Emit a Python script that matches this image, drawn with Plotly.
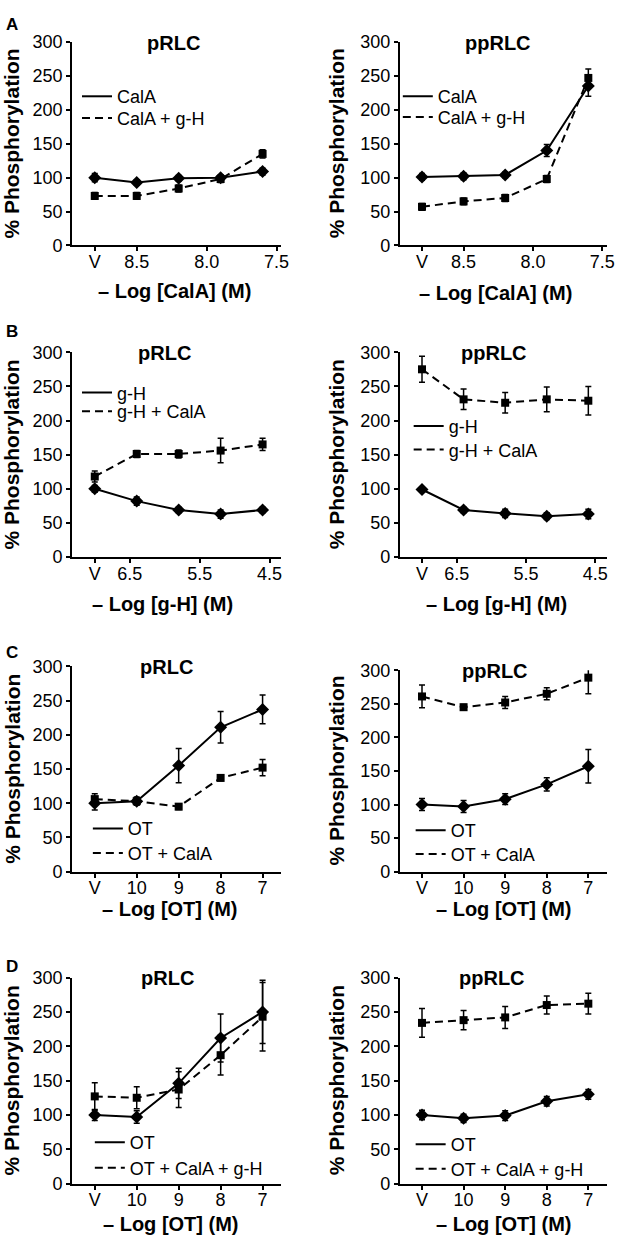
import plotly.graph_objects as go

W, H = 622, 1250
FONT = "Liberation Sans, Arial, sans-serif"

# ---------------- data ----------------
# Row A: calyculin A concentration (-log M); V = vehicle
calA_x = [8.8, 8.5, 8.2, 7.9, 7.6]
calA_tickvals = [8.8, 8.5, 8.0, 7.5]
calA_ticktext = ["V", "8.5", "8.0", "7.5"]
A_pRLC_calA = [100, 93, 99, 100, 109]
A_pRLC_calA_err = [6, 4, 4, 4, 5]
A_pRLC_calA_gH = [73, 73, 84, 98, 135]
A_pRLC_calA_gH_err = [5, 5, 5, 5, 6]
A_ppRLC_calA = [101, 102, 104, 140, 235]
A_ppRLC_calA_err = [5, 5, 4, 9, 15]
A_ppRLC_calA_gH = [57, 65, 70, 98, 247]
A_ppRLC_calA_gH_err = [5, 5, 5, 5, 13]

# Row B: g-H concentration (-log M)
gH_x = [7.0, 6.4, 5.8, 5.2, 4.6]
gH_tickvals = [7.0, 6.5, 5.5, 4.5]
gH_ticktext = ["V", "6.5", "5.5", "4.5"]
B_pRLC_gH = [100, 82, 69, 63, 69]
B_pRLC_gH_err = [5, 6, 4, 6, 4]
B_pRLC_gH_calA = [118, 151, 151, 156, 165]
B_pRLC_gH_calA_err = [8, 5, 6, 18, 9]
B_ppRLC_gH = [99, 69, 64, 60, 63]
B_ppRLC_gH_err = [4, 4, 6, 5, 7]
B_ppRLC_gH_calA = [275, 231, 226, 231, 229]
B_ppRLC_gH_calA_err = [19, 15, 15, 18, 21]

# Rows C, D: oxytocin concentration (-log M)
ot_x = [11, 10, 9, 8, 7]
ot_tickvals = [11, 10, 9, 8, 7]
ot_ticktext = ["V", "10", "9", "8", "7"]
C_pRLC_OT = [100, 103, 155, 211, 237]
C_pRLC_OT_err = [10, 6, 25, 23, 21]
C_pRLC_OT_calA = [106, 103, 95, 137, 152]
C_pRLC_OT_calA_err = [8, 5, 4, 4, 12]
C_ppRLC_OT = [100, 97, 108, 130, 157]
C_ppRLC_OT_err = [9, 9, 8, 10, 25]
C_ppRLC_OT_calA = [261, 245, 252, 265, 289]
C_ppRLC_OT_calA_err = [17, 4, 9, 9, 24]
D_pRLC_OT = [100, 97, 146, 212, 250]
D_pRLC_OT_err = [8, 9, 22, 35, 46]
D_pRLC_OT_calA_gH = [127, 125, 137, 187, 243]
D_pRLC_OT_calA_gH_err = [20, 16, 26, 29, 50]
D_ppRLC_OT = [100, 95, 99, 120, 130]
D_ppRLC_OT_err = [7, 6, 7, 7, 7]
D_ppRLC_OT_calA_gH = [234, 238, 242, 260, 262]
D_ppRLC_OT_calA_gH_err = [21, 14, 16, 13, 15]

panels = [
    # letter, title, x, tickvals, ticktext, xtitle, s1name, s1, e1, s2name, s2, e2
    ("A", "pRLC", calA_x, calA_tickvals, calA_ticktext, "– Log [CalA] (M)",
     "CalA", A_pRLC_calA, A_pRLC_calA_err, "CalA + g-H", A_pRLC_calA_gH, A_pRLC_calA_gH_err),
    ("", "ppRLC", calA_x, calA_tickvals, calA_ticktext, "– Log [CalA] (M)",
     "CalA", A_ppRLC_calA, A_ppRLC_calA_err, "CalA + g-H", A_ppRLC_calA_gH, A_ppRLC_calA_gH_err),
    ("B", "pRLC", gH_x, gH_tickvals, gH_ticktext, "– Log [g-H] (M)",
     "g-H", B_pRLC_gH, B_pRLC_gH_err, "g-H + CalA", B_pRLC_gH_calA, B_pRLC_gH_calA_err),
    ("", "ppRLC", gH_x, gH_tickvals, gH_ticktext, "– Log [g-H] (M)",
     "g-H", B_ppRLC_gH, B_ppRLC_gH_err, "g-H + CalA", B_ppRLC_gH_calA, B_ppRLC_gH_calA_err),
    ("C", "pRLC", ot_x, ot_tickvals, ot_ticktext, "– Log [OT] (M)",
     "OT", C_pRLC_OT, C_pRLC_OT_err, "OT + CalA", C_pRLC_OT_calA, C_pRLC_OT_calA_err),
    ("", "ppRLC", ot_x, ot_tickvals, ot_ticktext, "– Log [OT] (M)",
     "OT", C_ppRLC_OT, C_ppRLC_OT_err, "OT + CalA", C_ppRLC_OT_calA, C_ppRLC_OT_calA_err),
    ("D", "pRLC", ot_x, ot_tickvals, ot_ticktext, "– Log [OT] (M)",
     "OT", D_pRLC_OT, D_pRLC_OT_err, "OT + CalA + g-H", D_pRLC_OT_calA_gH, D_pRLC_OT_calA_gH_err),
    ("", "ppRLC", ot_x, ot_tickvals, ot_ticktext, "– Log [OT] (M)",
     "OT", D_ppRLC_OT, D_ppRLC_OT_err, "OT + CalA + g-H", D_ppRLC_OT_calA_gH, D_ppRLC_OT_calA_gH_err),
]

# ---------------- layout geometry (pixels) ----------------
col_dom = [(73, 285), (405, 615)]
col_pts = [(96, 266), (427.5, 596)]          # pixel of first / last category
row_dom = [[(32.5, 239.3), (32.5, 239.3)],
           [(347.8, 556), (347.8, 556)],
           [(667, 875.7), (671, 875.7)],
           [(983.3, 1192.7), (983.3, 1192.7)]]
title_pos = [(176, 34), (504, 34), (167, 349), (500, 349),
             (169, 668), (501, 672), (170, 984), (498, 984)]
xtitle_pos = [(177, 286), (502, 288), (165, 604), (503, 604),
              (172, 914), (511, 914), (173, 1234), (511, 1234)]
letter_pos = [(12, 15), None, (12, 327), None, (12, 653), None, (12, 972), None]
# legend: key-line start x, row centres y
legend_rows = [(85, 88, 110), (410, 88, 109), (85, 389, 408), (421, 423, 447),
               (96, 832, 857), (423, 834, 858), (98, 1151, 1177), (423, 1153, 1178)]


def fx(p):
    return p / W


def fy(p):
    return 1 - p / H


fig = go.Figure()
annotations = []
layout_extra = {}

for i, (letter, title, xs, tv, tt, xtitle, n1, s1, e1, n2, s2, e2) in enumerate(panels):
    r, c = divmod(i, 2)
    k = i + 1
    xa = "x" if k == 1 else f"x{k}"
    ya = "y" if k == 1 else f"y{k}"

    d0, d1 = col_dom[c]
    p0, p1 = col_pts[c]
    ppu = (p1 - p0) / (xs[0] - xs[-1])
    xr = [xs[0] + (p0 - d0) / ppu, xs[0] - (d1 - p0) / ppu]
    yt, yb = row_dom[r][c]

    axis_common = dict(showline=True, linecolor="black", linewidth=2, ticks="outside",
                       ticklen=4, tickwidth=1.5, tickcolor="black", showgrid=False,
                       zeroline=False, tickfont=dict(family=FONT, size=18, color="black"))
    layout_extra["xaxis" if k == 1 else f"xaxis{k}"] = dict(
        domain=[fx(d0), fx(d1)], anchor=ya, range=xr, tickmode="array",
        tickvals=tv, ticktext=tt, ticklabelstandoff=-5, **axis_common)
    layout_extra["yaxis" if k == 1 else f"yaxis{k}"] = dict(
        domain=[fy(yb), fy(yt)], anchor=xa, range=[0, 300], tickmode="array",
        tickvals=[0, 50, 100, 150, 200, 250, 300], **axis_common)

    lx, ly1, ly2 = legend_rows[i]
    series = [(n1, s1, e1, "solid", "diamond", 10, ly1),
              (n2, s2, e2, "8px,5px", "square", 8, ly2)]
    for j, (name, ys, es, dash, sym, msz, ly) in enumerate(series):
        li = 2 * i + j + 1
        lg = "legend" if li == 1 else f"legend{li}"
        layout_extra[lg] = dict(x=fx(lx - 7), y=fy(ly), xanchor="left", yanchor="middle",
                                bgcolor="rgba(0,0,0,0)", borderwidth=0, itemwidth=30,
                                font=dict(family=FONT, size=18, color="black"))
        fig.add_trace(go.Scatter(x=xs, y=ys, mode="lines", name=name, xaxis=xa, yaxis=ya,
                                 line=dict(color="black", width=2, dash=dash),
                                 showlegend=True, legend=lg, cliponaxis=False))
        fig.add_trace(go.Scatter(x=xs, y=ys, mode="markers", name=name, xaxis=xa, yaxis=ya,
                                 marker=dict(color="black", symbol=sym, size=msz),
                                 error_y=dict(type="data", array=es, visible=True,
                                              color="black", thickness=1.5, width=3),
                                 showlegend=False, cliponaxis=False))

    tx, ty = title_pos[i]
    annotations.append(dict(text=f"<b>{title}</b>", x=fx(tx), y=fy(ty), xref="paper",
                            yref="paper", xanchor="center", yanchor="middle",
                            showarrow=False, font=dict(family=FONT, size=20, color="black")))
    gx, gy = xtitle_pos[i]
    annotations.append(dict(text=f"<b>{xtitle}</b>", x=fx(gx), y=fy(gy), xref="paper",
                            yref="paper", xanchor="center", yanchor="middle",
                            showarrow=False, font=dict(family=FONT, size=20, color="black")))
    yx = 12 if c == 0 else 341
    annotations.append(dict(text="<b>% Phosphorylation</b>", x=fx(yx), y=fy((yt + yb) / 2),
                            xref="paper", yref="paper", xanchor="center", yanchor="middle",
                            textangle=-90, showarrow=False,
                            font=dict(family=FONT, size=21, color="black")))
    if letter:
        lx2, ly2 = letter_pos[i]
        annotations.append(dict(text=f"<b>{letter}</b>", x=fx(lx2), y=fy(ly2), xref="paper",
                                yref="paper", xanchor="center", yanchor="middle",
                                showarrow=False, font=dict(family=FONT, size=17, color="black")))

fig.update_layout(width=W, height=H, margin=dict(l=0, r=0, t=0, b=0),
                  paper_bgcolor="white", plot_bgcolor="white",
                  annotations=annotations, **layout_extra)

# the page's default 8px body margin would shift the figure; remove it
fig.write_html("out.html", config={"displayModeBar": False},
               post_script="document.body.style.margin='0px';")
